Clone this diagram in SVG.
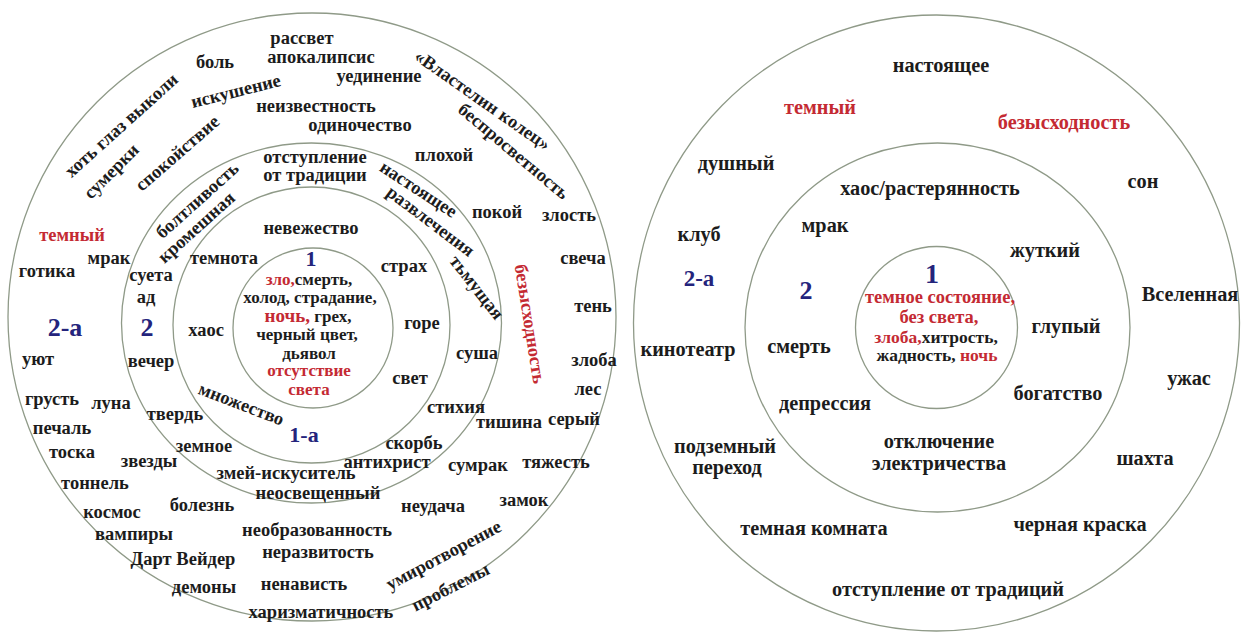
<svg xmlns="http://www.w3.org/2000/svg" width="1241" height="634" viewBox="0 0 1241 634">
<style>
.ring{fill:none;stroke:#8f9a88;stroke-width:1.3}
.txt text{font-weight:bold;text-anchor:middle;fill:#1c1c1c}
.txt .L{font-size:18.5px}
.txt .IL{font-size:17px}
.txt .IR{font-size:17.5px}
.txt .R{font-size:20.3px}
.txt .red{fill:#c42a33}
.txt .blue{fill:#24247c}
</style>
<rect width="1241" height="634" fill="#ffffff"/>
<g id="connectors">
<g id="left-rings">
<ellipse class="ring" cx="312" cy="317" rx="304" ry="304"/>
<ellipse class="ring" cx="311.5" cy="323" rx="190" ry="180"/>
<ellipse class="ring" cx="311.5" cy="325" rx="138.5" ry="138"/>
<circle class="ring" cx="313" cy="328" r="80"/>
</g>
<g id="right-rings">
<ellipse class="ring" cx="936.5" cy="323" rx="303" ry="308"/>
<ellipse class="ring" cx="937.5" cy="327.5" rx="192.5" ry="184.5"/>
<circle class="ring" cx="936.5" cy="327.5" r="81"/>
</g>
</g>
<g class="txt" font-family="'Liberation Serif', 'DejaVu Serif', serif">
<g id="left-outer-ring" class="L">
<text x="302" y="44">рассвет</text>
<text x="321" y="63">апокалипсис</text>
<text x="379" y="82">уединение</text>
<text x="215" y="68">боль</text>
<text transform="translate(236,92) rotate(-14)" y="5">искушение</text>
<text x="316" y="112">неизвестность</text>
<text x="360" y="131">одиночество</text>
<text transform="translate(482,101) rotate(35)" y="5">«Властелин колец»</text>
<text transform="translate(513,152) rotate(40)" y="5">беспросветность</text>
<text x="444" y="161">плохой</text>
<text transform="translate(122,126) rotate(-42)" y="5">хоть глаз выколи</text>
<text transform="translate(112,172) rotate(-45)" y="5">сумерки</text>
<text transform="translate(178,154) rotate(-41)" y="5">спокойствие</text>
<text class="red" x="72" y="241">темный</text>
<text x="109" y="264">мрак</text>
<text x="47" y="277">готика</text>
<text class="blue" x="65" y="336" style="font-size:26px">2-а</text>
<text x="38" y="365">уют</text>
<text x="52" y="405">грусть</text>
<text x="111" y="409">луна</text>
<text x="62" y="434">печаль</text>
<text x="72" y="458">тоска</text>
<text x="149" y="467">звезды</text>
<text x="95" y="489">тоннель</text>
<text x="112" y="518">космос</text>
<text x="202" y="511">болезнь</text>
<text x="134" y="540">вампиры</text>
<text x="183" y="565">Дарт Вейдер</text>
<text x="204" y="593">демоны</text>
<text x="317" y="536">необразованность</text>
<text x="318" y="558">неразвитость</text>
<text x="304" y="590">ненависть</text>
<text x="321" y="618">харизматичность</text>
<text x="433" y="512">неудача</text>
<text x="478" y="471">сумрак</text>
<text x="556" y="468">тяжесть</text>
<text x="524" y="506">замок</text>
<text transform="translate(444,556) rotate(-28)" y="5">умиротворение</text>
<text transform="translate(451,588) rotate(-27)" y="5">проблемы</text>
<text x="569" y="221">злость</text>
<text x="497" y="218">покой</text>
<text x="583" y="264">свеча</text>
<text x="593" y="312">тень</text>
<text x="594" y="366">злоба</text>
<text x="588" y="395">лес</text>
<text x="574" y="425">серый</text>
<text x="509" y="428">тишина</text>
<text class="red" transform="translate(529,324) rotate(81)" y="5">безысходность</text>
</g>
<g id="left-middle-ring" class="L">
<text x="315" y="163">отступление</text>
<text x="315" y="181">от традиции</text>
<text transform="translate(198,201) rotate(-42)" y="5">болтливость</text>
<text transform="translate(197,228) rotate(-42)" y="5">кромешная</text>
<text transform="translate(418,190) rotate(33)" y="5">настоящее</text>
<text transform="translate(430,222) rotate(37)" y="5">развлечения</text>
<text transform="translate(476,288) rotate(52)" y="5">тьмущая</text>
<text x="151" y="281">суета</text>
<text x="146" y="303">ад</text>
<text class="blue" x="147" y="336" style="font-size:26px">2</text>
<text x="151" y="367">вечер</text>
<text x="175" y="420">твердь</text>
<text x="204" y="452">земное</text>
<text x="286" y="479">змей-искуситель</text>
<text x="318" y="499">неосвещенный</text>
<text x="387" y="468">антихрист</text>
<text x="414" y="449">скорбь</text>
<text x="456" y="413">стихия</text>
<text x="477" y="359">суша</text>
</g>
<g id="left-inner-ring" class="L">
<text x="311" y="234">невежество</text>
<text x="224" y="264">темнота</text>
<text x="206" y="336">хаос</text>
<text transform="translate(241,405) rotate(21)" y="5">множество</text>
<text class="blue" x="304" y="442" style="font-size:22px">1-а</text>
<text x="404" y="272">страх</text>
<text x="422" y="329">горе</text>
<text x="410" y="384">свет</text>
</g>
<g id="left-core" class="IL">
<text class="blue" x="311" y="266" style="font-size:22px">1</text>
<text x="309" y="285"><tspan class="red">зло,</tspan>смерть,</text>
<text x="310" y="303">холод, страдание,</text>
<text x="308" y="322"><tspan class="red" style="font-size:19px">ночь,</tspan> грех,</text>
<text x="307" y="340">черный цвет,</text>
<text x="309" y="359">дьявол</text>
<text class="red" x="309" y="376">отсутствие</text>
<text class="red" x="309" y="395">света</text>
</g>
<g id="right-outer-ring" class="R">
<text x="941" y="72">настоящее</text>
<text class="red" x="820" y="114">темный</text>
<text class="red" x="1064" y="129">безысходность</text>
<text x="736" y="170">душный</text>
<text x="1143" y="188">сон</text>
<text x="699" y="241">клуб</text>
<text class="blue" x="699" y="286" style="font-size:23px">2-а</text>
<text x="1190" y="301">Вселенная</text>
<text x="688" y="356">кинотеатр</text>
<text x="1189" y="385">ужас</text>
<text x="725" y="453">подземный</text>
<text x="727" y="474">переход</text>
<text x="1145" y="465">шахта</text>
<text x="814" y="535">темная комната</text>
<text x="1080" y="531">черная краска</text>
<text x="948" y="596">отступление от традиций</text>
</g>
<g id="right-middle-ring" class="R">
<text x="930" y="195">хаос/растерянность</text>
<text x="825" y="232">мрак</text>
<text x="1045" y="257">жуткий</text>
<text class="blue" x="806" y="299" style="font-size:26px">2</text>
<text x="799" y="353">смерть</text>
<text x="1066" y="333">глупый</text>
<text x="1058" y="400">богатство</text>
<text x="825" y="410">депрессия</text>
<text x="939" y="448">отключение</text>
<text x="939" y="470">электричества</text>
</g>
<g id="right-core" class="IR">
<text class="blue" x="932" y="283" style="font-size:28px">1</text>
<text class="red" x="940" y="303" style="font-size:18.5px">темное состояние,</text>
<text class="red" x="939" y="323" style="font-size:18.5px">без света,</text>
<text x="936" y="343"><tspan class="red">злоба,</tspan>хитрость,</text>
<text x="937" y="361">жадность, <tspan class="red">ночь</tspan></text>
</g>
</g>
</svg>
